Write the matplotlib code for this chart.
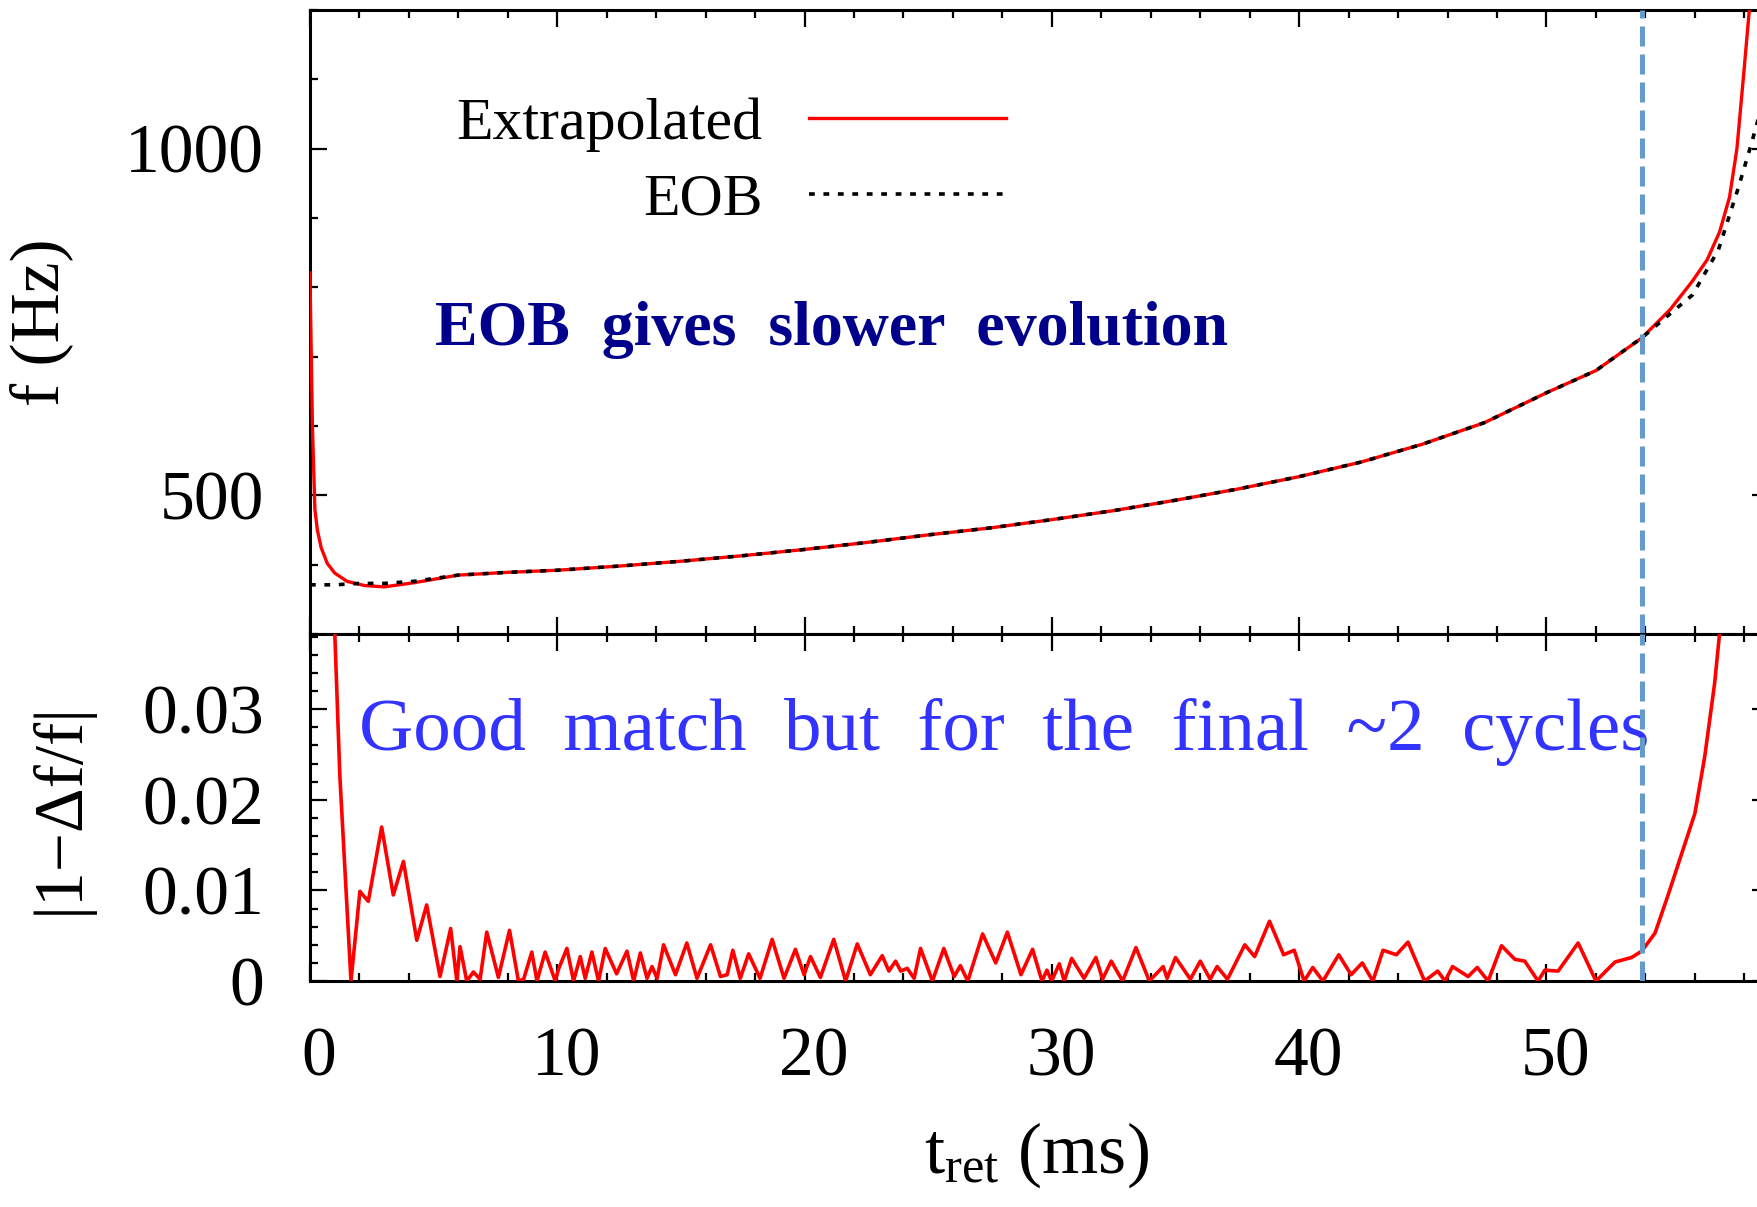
import matplotlib
matplotlib.use('Agg')
import matplotlib.pyplot as plt
import matplotlib.transforms as mtransforms
from matplotlib.ticker import MultipleLocator
from matplotlib.lines import Line2D

plt.rcParams['font.family'] = ['Liberation Serif', 'DejaVu Serif']
plt.rcParams['mathtext.fontset'] = 'custom'
plt.rcParams['mathtext.rm'] = 'Liberation Serif'
plt.rcParams['mathtext.it'] = 'Liberation Serif:italic'

# frequency, extrapolated (ms, Hz)
t_ext = [0, 0.1, 0.2, 0.3, 0.45, 0.7, 1.0, 1.5, 2.2, 3.0, 4.2, 6.0, 8.0, 10,
         12.5, 15, 17.5, 20, 22.5, 25, 27.5, 30, 32.5, 35, 37.5, 40, 42.5,
         45, 47.5, 50, 52, 53.85, 55, 55.9, 56.5, 57.0, 57.4, 57.7, 58.0,
         58.2, 58.3]
f_ext = [821, 600, 480, 450, 425, 402, 388, 376, 370, 368, 374, 385, 389, 392,
         398, 405, 413, 422, 432, 443, 453, 465, 478, 493, 509, 527, 548,
         574, 605, 648, 680, 727, 768, 809, 840, 880, 930, 1000, 1118,
         1200, 1250]

# frequency, EOB
t_eob = [0, 0.5, 1.0, 1.5, 2.0, 3.0, 4.2, 6.0, 8.0, 10, 12.5, 15, 17.5, 20,
         22.5, 25, 27.5, 30, 32.5, 35, 37.5, 40, 42.5, 45, 47.5, 50, 52,
         53.85, 55, 55.9, 56.95, 57.76, 58.3, 58.6, 59.0]
f_eob = [371, 371, 371, 372, 373, 373, 376, 385, 389, 392, 398, 405, 413, 422,
         432, 443, 453, 465, 478, 493, 509, 527, 548, 574, 605, 648, 680,
         727, 762, 789, 854, 944, 1009, 1048, 1100]

# |1 - df/f|
t_diff = [0.9, 1.01, 1.21, 1.66, 2.02, 2.36, 2.9, 3.37, 3.78, 4.32, 4.72, 5.26,
          5.69, 5.94, 6.07, 6.34, 6.61, 6.88, 7.15, 7.62, 8.07, 8.43, 8.64,
          8.97, 9.18, 9.51, 9.92, 10.05, 10.39, 10.66, 10.93, 11.13, 11.4,
          11.67, 11.94, 12.4, 12.82, 13.09, 13.36, 13.63, 13.83, 14.04, 14.3,
          14.78, 15.24, 15.65, 16.2, 16.6, 16.87, 17.1, 17.4, 17.74, 18.2,
          18.69, 19.17, 19.63, 19.98, 20.24, 20.64, 21.18, 21.66, 22.13, 22.66,
          23.14, 23.41, 23.68, 23.89, 24.15, 24.43, 24.69, 25.17, 25.63, 26.05,
          26.3, 26.6, 27.2, 27.73, 28.2, 28.75, 29.22, 29.6, 29.8, 29.99, 30.3,
          30.5, 30.8, 31.3, 31.78, 32.05, 32.4, 32.86, 33.4, 33.94, 34.5,
          34.66, 35.0, 35.6, 36.0, 36.4, 36.68, 37.1, 37.8, 38.2, 38.8, 39.37,
          39.8, 40.2, 40.55, 40.96, 41.6, 42.1, 42.55, 42.98, 43.39, 43.93,
          44.4, 45.07, 45.6, 45.9, 46.2, 46.83, 47.2, 47.64, 48.18, 48.72,
          49.12, 49.66, 49.93, 50.47, 51.28, 52.0, 52.77, 53.44, 53.85, 54.39,
          54.93, 55.4, 56.0, 56.4, 56.8, 57.0, 57.2]
d_diff = [0.046, 0.0380, 0.0226, 0.0, 0.0099, 0.0088, 0.0170, 0.0095, 0.0132,
          0.0045, 0.0084, 0.0005, 0.0058, 0.0, 0.0038, 0.0, 0.0010, 0.0002,
          0.0054, 0.0004, 0.0056, 0.0, 0.0002, 0.0032, 0.0, 0.0032, 0.0,
          0.0013, 0.0036, 0.0, 0.0027, 0.0003, 0.0032, 0.0, 0.0036, 0.0008,
          0.0033, 0.0, 0.0031, 0.0003, 0.0016, 0.0003, 0.0040, 0.0007, 0.0042,
          0.0003, 0.0040, 0.0005, 0.0007, 0.0034, 0.0003, 0.0030, 0.0003,
          0.0046, 0.0003, 0.0035, 0.0007, 0.0027, 0.0004, 0.0046, 0.0, 0.0041,
          0.0007, 0.0028, 0.0011, 0.0022, 0.0011, 0.0014, 0.0003, 0.0036, 0.0,
          0.0036, 0.0005, 0.0017, 0.0, 0.0052, 0.0020, 0.0054, 0.0007, 0.0035,
          0.0, 0.0012, 0.0, 0.0019, 0.0, 0.0025, 0.0003, 0.0026, 0.0002,
          0.0022, 0.0, 0.0037, 0.0, 0.0016, 0.0003, 0.0026, 0.0002, 0.0022,
          0.0002, 0.0016, 0.0002, 0.0040, 0.0027, 0.0066, 0.0029, 0.0034, 0.0,
          0.0015, 0.0, 0.0029, 0.0007, 0.0020, 0.0, 0.0034, 0.0029, 0.0043,
          0.0, 0.0011, 0.0, 0.0016, 0.0005, 0.0015, 0.0, 0.0039, 0.0024,
          0.0022, 0.0, 0.0012, 0.0011, 0.0042, 0.0, 0.0021, 0.0026, 0.0033,
          0.0053, 0.0096, 0.0135, 0.0185, 0.0248, 0.0329, 0.0384, 0.045]

t_mark = 53.85

f_ticks = [500, 1000]
f_ticklabels = ['500', '1000']
d_ticks = [0, 0.01, 0.02, 0.03]
d_ticklabels = ['0', '0.01', '0.02', '0.03']
t_ticks = [0, 10, 20, 30, 40, 50]

fig = plt.figure(figsize=(17.58, 12.07), dpi=100)
ax1 = fig.add_axes([0.1763, 0.4747, 0.8300, 0.5170])
ax2 = fig.add_axes([0.1763, 0.1872, 0.8300, 0.2875])

# top panel
ax1.plot(t_ext, f_ext, color='#ff0000', lw=2.4, label='Extrapolated', zorder=3)
ax1.plot(t_eob, f_eob, color='black', lw=2.6, dashes=(1.6, 2.4), label='EOB', zorder=4)
ax1.axvline(t_mark, color='#6699cc', lw=3.6, dashes=(4, 1.6), zorder=5)
ax1.set_xlim(0, 59)
ax1.set_ylim(300, 1200)
ax1.set_yticks(f_ticks, labels=f_ticklabels)
ax1.yaxis.set_minor_locator(MultipleLocator(100))
ax1.set_xticks(t_ticks)
ax1.xaxis.set_minor_locator(MultipleLocator(2))
ax1.tick_params(labelbottom=False)
ax1.set_ylabel('f (Hz)', fontsize=50)
ax1.yaxis.set_label_coords(-0.1624, 0.5)

handles = [Line2D([], [], color='#ff0000', lw=2.4),
           Line2D([], [], color='black', lw=2.6, dashes=(1.6, 2.4))]
ax1.legend(handles, ['Extrapolated', 'EOB'], loc='upper right',
           bbox_to_anchor=(0.5722, 0.9196), bbox_transform=fig.transFigure,
           frameon=False, markerfirst=False, fontsize=43, handlelength=3.3,
           handletextpad=0.78, labelspacing=0.35, borderpad=0, borderaxespad=0)

ax1.text(0.0857, 0.463, 'EOB  gives  slower  evolution', transform=ax1.transAxes,
         fontsize=46, fontweight='bold', color='#00008b', ha='left', va='baseline')

# bottom panel
ax2.plot(t_diff, d_diff, color='#ff0000', lw=2.6, zorder=3)
ax2.axvline(t_mark, color='#6699cc', lw=3.6, dashes=(4, 1.6), zorder=5)
ax2.set_xlim(0, 59)
ax2.set_ylim(0, 0.0383)
ax2.set_yticks(d_ticks, labels=d_ticklabels)
ax2.yaxis.set_minor_locator(MultipleLocator(0.002))
ax2.set_xticks(t_ticks)
ax2.xaxis.set_minor_locator(MultipleLocator(2))
ax2.set_ylabel('|1\u2212\u0394f/f|', fontsize=50)
ax2.yaxis.set_label_coords(-0.149, 0.5)
ax2.set_xlabel(r'$\mathrm{t_{ret}}$ (ms)', fontsize=52)
ax2.xaxis.set_label_coords(0.498, -0.40)

ax2.text(0.0336, 0.666, 'Good  match  but  for  the  final  ~2  cycles',
         transform=ax2.transAxes, fontsize=54, color='#3333ff', ha='left', va='baseline')

for ax in (ax1, ax2):
    ax.tick_params(which='both', direction='in', top=True, right=True,
                   width=1.6, labelsize=50, pad=33)
    ax.tick_params(which='major', length=12)
    ax.tick_params(which='minor', length=6)
    for s in ax.spines.values():
        s.set_linewidth(2.2)

# gnuplot-style small shift of x tick labels
offset = mtransforms.ScaledTranslation(0.09, 0, fig.dpi_scale_trans)
for lab in ax2.get_xticklabels():
    lab.set_transform(lab.get_transform() + offset)

fig.savefig('out.png', dpi=100)
